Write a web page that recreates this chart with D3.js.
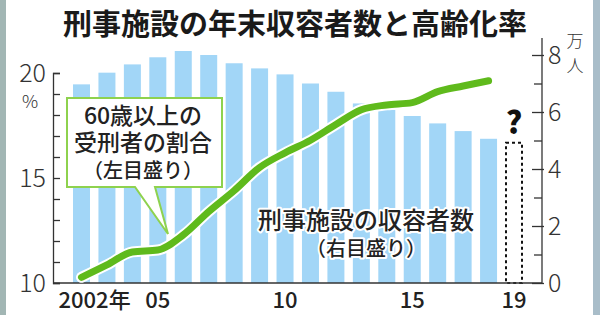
<!DOCTYPE html>
<html>
<head>
<meta charset="utf-8">
<script src="https://cdn.jsdelivr.net/npm/d3@7"></script>
<style>
  html, body { margin: 0; padding: 0; background: #fff; }
  svg { display: block; font-family: "Noto Sans CJK JP", "Noto Sans", sans-serif; }
</style>
</head>
<body>
<div id="canvas"></div>
<script>
// data
const years = [2002, 2003, 2004, 2005, 2006, 2007, 2008, 2009, 2010, 2011, 2012, 2013, 2014, 2015, 2016, 2017, 2018];
const inmates = [6.97, 7.38, 7.67, 7.92, 8.14, 8.0, 7.71, 7.53, 7.32, 7.0, 6.71, 6.3, 6.07, 5.86, 5.6, 5.33, 5.06]; // 万人
const elderRate = [10.27, 10.86, 11.48, 11.57, 12.29, 13.4, 14.4, 15.5, 16.2, 16.8, 17.55, 18.25, 18.48, 18.59, 19.11, 19.38, 19.63]; // %
const pendingYear = 2019;
const pendingValue = 4.92;
const xTickYears = [2002, 2005, 2010, 2015, 2019];
const xTickLabels = ["2002年", "05", "10", "15", "19"];
const leftTicks = [10, 11, 12, 13, 14, 15, 16, 17, 18, 19, 20];
const rightTicks = [0, 1, 2, 3, 4, 5, 6, 7, 8];

const w = 600, h = 315;
const plot = { left: 53, right: 542, bottom: 283 };

const svg = d3.select("#canvas").append("svg")
  .attr("width", w).attr("height", h);

// side strips
svg.append("rect").attr("x", 0).attr("y", 0).attr("width", 6).attr("height", h).attr("fill", "#a2b6b4");
svg.append("rect").attr("x", 593).attr("y", 0).attr("width", 7).attr("height", h).attr("fill", "#a9bdc9");

const x = d3.scaleLinear().domain([2002, 2019]).range([81.5, 514]);
const yL = d3.scaleLinear().domain([10, 20]).range([plot.bottom, 73]);
const yR = d3.scaleLinear().domain([0, 8]).range([plot.bottom, 55]);
const barW = 17;

// bars
svg.append("g").selectAll("rect")
  .data(years)
  .enter().append("rect")
    .attr("x", d => x(d) - barW / 2)
    .attr("width", barW)
    .attr("y", (d, i) => yR(inmates[i]))
    .attr("height", (d, i) => yR(0) - yR(inmates[i]))
    .attr("fill", "#a2d6f7");

// 2019 placeholder
svg.append("rect")
  .attr("x", x(pendingYear) - barW / 2 + 0.5)
  .attr("width", barW - 1)
  .attr("y", yR(pendingValue))
  .attr("height", yR(0) - yR(pendingValue))
  .attr("fill", "none")
  .attr("stroke", "#111")
  .attr("stroke-width", 2)
  .attr("stroke-dasharray", "3,3");

svg.append("text")
  .attr("x", x(pendingYear)).attr("y", 134)
  .attr("text-anchor", "middle")
  .attr("font-size", 31).attr("font-weight", 900)
  .attr("fill", "#111")
  .text("?");

// axes
const axisColor = "#333";
const gl = svg.append("g").attr("transform", `translate(${plot.left},0)`)
  .call(d3.axisLeft(yL).tickValues(leftTicks).tickSize(-7).tickPadding(7)
    .tickFormat(d => d % 5 === 0 ? d : ""));
const gr = svg.append("g").attr("transform", `translate(${plot.right},0)`)
  .call(d3.axisRight(yR).tickValues(rightTicks).tickSize(-8).tickPadding(6)
    .tickFormat(d => d % 2 === 0 ? d : ""));
gr.select(".domain").attr("d", `M0,${yR(0)}V${yR(8.6)}`);
gr.selectAll(".tick").filter(d => d % 2 === 0).select("line").attr("x1", 2).attr("x2", -10);

[gl, gr].forEach(g => {
  g.select(".domain").attr("stroke", axisColor).attr("stroke-width", 1.3);
  g.selectAll(".tick line").attr("stroke", axisColor).attr("stroke-width", 1.3);
  g.selectAll(".tick text")
    .attr("font-family", "\"Noto Sans CJK JP\", sans-serif")
    .attr("font-size", 25).attr("font-weight", 300).attr("fill", "#333");
});

// bottom line
svg.append("line")
  .attr("x1", plot.left).attr("x2", plot.right)
  .attr("y1", plot.bottom).attr("y2", plot.bottom)
  .attr("stroke", axisColor).attr("stroke-width", 1.3);

svg.append("g").selectAll("text")
  .data(xTickYears)
  .enter().append("text")
    .attr("x", (d, i) => i === 0 ? x(d) - 23 : x(d))
    .attr("y", 308)
    .attr("text-anchor", (d, i) => i === 0 ? "start" : "middle")
    .attr("font-size", 22).attr("font-weight", 500)
    .attr("fill", "#222")
    .text((d, i) => xTickLabels[i]);

// units
svg.append("text").attr("x", 30).attr("y", 108).attr("text-anchor", "middle")
  .attr("font-size", 18).attr("font-weight", 300).attr("fill", "#333").text("%");
svg.append("text").attr("x", 575).attr("y", 47).attr("text-anchor", "middle")
  .attr("font-size", 17).attr("font-weight", 300).attr("fill", "#333").text("万");
svg.append("text").attr("x", 575).attr("y", 72).attr("text-anchor", "middle")
  .attr("font-size", 17).attr("font-weight", 300).attr("fill", "#333").text("人");

// rate line
const line = d3.line()
  .x((d, i) => x(years[i]))
  .y(d => yL(d))
  .curve(d3.curveMonotoneX);

svg.append("path").datum(elderRate)
  .attr("d", line).attr("fill", "none")
  .attr("stroke", "#fff").attr("stroke-width", 11)
  .attr("stroke-linecap", "round").attr("stroke-linejoin", "round");
svg.append("path").datum(elderRate)
  .attr("d", line).attr("fill", "none")
  .attr("stroke", "#5fba1c").attr("stroke-width", 7)
  .attr("stroke-linecap", "round").attr("stroke-linejoin", "round");

// callout box
svg.append("path")
  .attr("d", "M67,98H222V187H155L168,234L135,187H67Z")
  .attr("fill", "#fff")
  .attr("stroke", "#8ed24e")
  .attr("stroke-width", 2)
  .attr("stroke-linejoin", "miter");

const callout = [
  { t: "60歳以上の", y: 124, s: 23 },
  { t: "受刑者の割合", y: 151, s: 23 },
  { t: "（左目盛り）", y: 178, s: 20 }
];
svg.append("g").selectAll("text")
  .data(callout)
  .enter().append("text")
    .attr("x", 143).attr("y", d => d.y)
    .attr("text-anchor", "middle")
    .attr("font-size", d => d.s).attr("font-weight", 500)
    .attr("fill", "#222")
    .text(d => d.t);

// bar label with white halo
const barLabel = [
  { t: "刑事施設の収容者数", y: 229, s: 24 },
  { t: "（右目盛り）", y: 256, s: 20 }
];
svg.append("g").selectAll("text")
  .data(barLabel)
  .enter().append("text")
    .attr("x", 366).attr("y", d => d.y)
    .attr("text-anchor", "middle")
    .attr("font-size", d => d.s).attr("font-weight", 500)
    .attr("fill", "#222")
    .attr("stroke", "#fff").attr("stroke-width", 4)
    .attr("paint-order", "stroke")
    .attr("stroke-linejoin", "round")
    .text(d => d.t);

// title
svg.append("text")
  .attr("x", 295).attr("y", 35)
  .attr("text-anchor", "middle")
  .attr("font-size", 29).attr("font-weight", 700)
  .attr("fill", "#1a1a1a")
  .text("刑事施設の年末収容者数と高齢化率");
</script>
</body>
</html>
